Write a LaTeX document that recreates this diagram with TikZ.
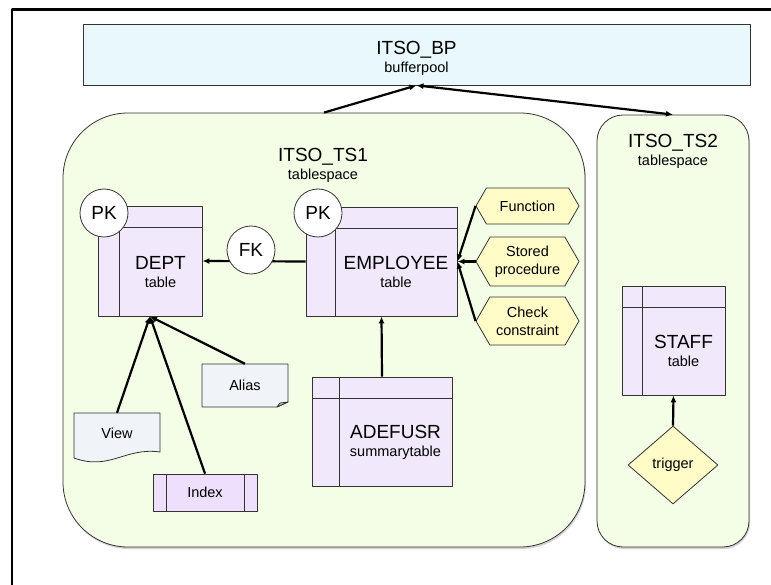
\documentclass[tikz,border=0pt]{standalone}
\usepackage{fontspec}
\setmainfont{Liberation Sans}
\usetikzlibrary{arrows.meta,shapes.geometric,shapes.symbols,shadows}
\definecolor{bpfill}{HTML}{E8F8FC}
\definecolor{tsfill}{HTML}{F4FDE6}
\definecolor{tabfill}{HTML}{F1E8FC}
\definecolor{idxfill}{HTML}{EEE0FC}
\definecolor{objfill}{HTML}{FFFCC8}
\definecolor{docfill}{HTML}{F0F4F8}
\definecolor{edge}{HTML}{333333}
\newcommand{\subtxt}[1]{\\{\fontsize{14.5}{14.5}\selectfont #1}}
\tikzset{
  every picture/.style={line join=round, >={Latex[length=7pt,width=6pt]}},
  bigtxt/.style={font=\fontsize{19}{18}\selectfont, align=center, inner sep=0pt},
  smalltxt/.style={font=\fontsize{14.5}{18}\selectfont, align=center, inner sep=0pt},
  box/.style={draw=edge, line width=0.8pt},
  conn/.style={->, line width=2.2pt},
  tsbox/.style={box, fill=tsfill, drop shadow={shadow xshift=1pt, shadow yshift=-2pt, fill=gray!70}},
  dbtable/.style={box, fill=tabfill, inner sep=0pt,
    path picture={
      \draw[edge, line width=0.8pt] ([yshift=-21pt]path picture bounding box.north west) -- ([yshift=-21pt]path picture bounding box.north east);
      \draw[edge, line width=0.8pt] ([xshift=#1]path picture bounding box.north west) -- ([xshift=#1]path picture bounding box.south west);}},
  idxbox/.style={box, fill=idxfill, smalltxt, minimum width=104pt, minimum height=37pt,
    path picture={
      \draw[edge, line width=0.8pt] ([xshift=13pt]path picture bounding box.north west) -- ([xshift=13pt]path picture bounding box.south west);
      \draw[edge, line width=0.8pt] ([xshift=-13pt]path picture bounding box.north east) -- ([xshift=-13pt]path picture bounding box.south east);}},
  keycirc/.style={circle, box, fill=white, minimum size=48pt, bigtxt},
  hexa/.style={signal, signal to=west and east, signal pointer angle=120, box, fill=objfill, smalltxt, minimum width=103pt},
}

\begin{document}
\begin{tikzpicture}[x=1pt,y=-1pt]
\useasboundingbox (0,0) rectangle (771,585);
\draw[line width=2.5pt] (12,585) -- (12,9.5) -- (771,9.5);
% containers
\node[box, fill=bpfill, minimum width=667pt, minimum height=61pt] (bp) at (416.5,54.5) {};
\node[bigtxt] (bplbl) at (416.5,58) {ITSO\_BP\subtxt{bufferpool}};
\node[tsbox, minimum width=522pt, minimum height=434pt, rounded corners=65pt] (ts1) at (324,330) {};
\node[tsbox, minimum width=152pt, minimum height=432pt, rounded corners=26pt] (ts2) at (673,331) {};
\node[bigtxt] (ts1lbl) at (323,165) {ITSO\_TS1\subtxt{tablespace}};
\node[bigtxt] (ts2lbl) at (673,151) {ITSO\_TS2\subtxt{tablespace}};
% tables
\node[dbtable=21pt, minimum width=104pt, minimum height=110pt] (dept) at (150,261) {};
\node[bigtxt] (depttxt) at (160.5,272) {DEPT\subtxt{table}};
\node[dbtable=29pt, minimum width=151pt, minimum height=109pt] (emp) at (381.5,261.5) {};
\node[bigtxt] (emptxt) at (396,272) {EMPLOYEE\subtxt{table}};
\node[dbtable=27pt, minimum width=140pt, minimum height=109pt] (adefusr) at (382,431.5) {};
\node[bigtxt] (adefusrtxt) at (395.5,442) {ADEFUSR\subtxt{summarytable}};
\node[dbtable=20pt, minimum width=103pt, minimum height=109pt] (staff) at (673.5,340.5) {};
\node[bigtxt] (stafftxt) at (683.5,351) {STAFF\subtxt{table}};
% objects
\node[hexa, minimum height=36pt] (func) at (527.5,206) {Function};
\node[hexa, minimum height=49pt] (sproc) at (527.5,261.5) {Stored\\procedure};
\node[hexa, minimum height=48pt] (chk) at (527.5,321) {Check\\constraint};
\node[diamond, box, fill=objfill, smalltxt, minimum width=90pt, minimum height=78pt] (trigger) at (673,465) {trigger};
\node[idxbox] (index) at (205,492.5) {Index};
\draw[box, fill=docfill] (74,413) -- (160,413) -- (160,452) .. controls (125,447) and (110,471) .. (74,458) -- cycle;
\node[smalltxt, minimum width=86pt, minimum height=40pt] (view) at (117,433) {View};
\draw[box, fill=docfill] (202,364) -- (288,364) -- (288,402) -- (277,407) -- (202,407) -- cycle;
\draw[box, fill=gray!45] (288,402) -- (277,407) -- (280,403) -- cycle;
\node[smalltxt, minimum width=86pt, minimum height=43pt] (alias) at (245,385.5) {Alias};
% connectors
\draw[conn] (ts1.north) -- (bp.south);
\draw[conn, <->] (bp.south) -- (ts2.north);
\draw[conn] (emp.west) -- (dept.east);
\draw[conn] (adefusr.north) -- (emp.south);
\draw[conn] (func.west) -- (emp.east);
\draw[conn] (sproc.west) -- (emp.east);
\draw[conn] (chk.west) -- (emp.east);
\draw[conn] (view.north) -- (dept.south);
\draw[conn] (index.north) -- (dept.south);
\draw[conn] (alias.north) -- (dept.south);
\draw[conn] (trigger.north) -- (staff.south);
% keys
\node[keycirc] (fk) at (251,250) {FK};
\node[keycirc] (pkdept) at (104,213) {PK};
\node[keycirc] (pkemp) at (318,213) {PK};
\end{tikzpicture}
\end{document}
